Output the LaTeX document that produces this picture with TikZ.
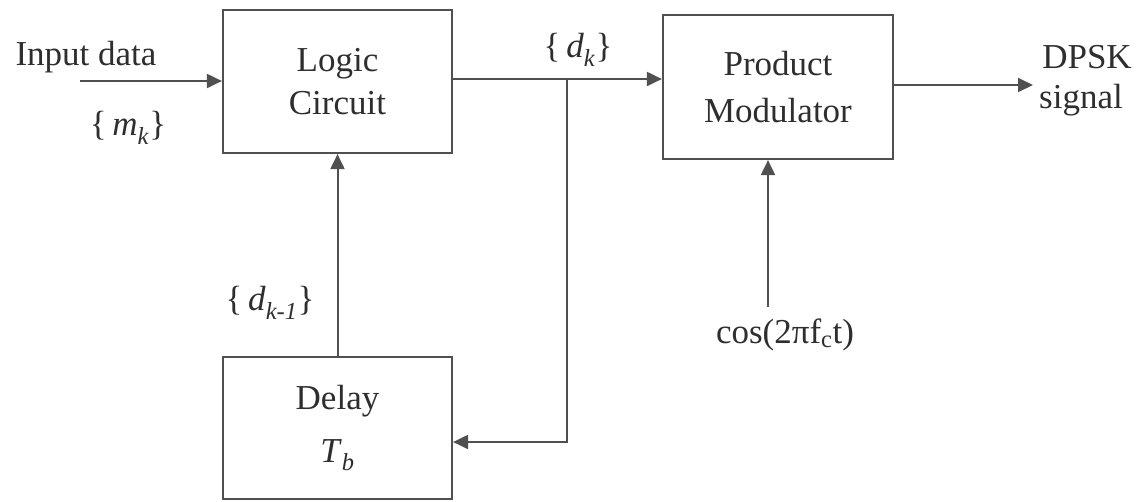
\documentclass[tikz,border=0pt]{standalone}
\usepackage{fontspec}
\setmainfont{Liberation Serif}
\usetikzlibrary{arrows.meta}
\definecolor{ln}{HTML}{505050}
\definecolor{tx}{HTML}{2E2E2E}
\begin{document}
\begin{tikzpicture}[x=1pt,y=-1pt,
  every node/.style={text=tx,font=\fontsize{35}{40}\selectfont},
  blk/.style={draw=ln,line width=2.2pt,rectangle,inner sep=0pt,align=center},
  conn/.style={draw=ln,line width=2pt},
  arr/.style={conn,-{Triangle[length=15pt,width=14pt]}},
  lbl/.style={inner sep=0pt}]
\useasboundingbox (0,0) rectangle (1145,501);
\node[blk,minimum width=229pt,minimum height=143pt,font=\fontsize{35}{43}\selectfont] (logic) at (337.5,81.5) {Logic\\Circuit};
\node[blk,minimum width=230pt,minimum height=144pt,font=\fontsize{35}{47}\selectfont] (prod) at (778,87) {Product\\Modulator};
\node[blk,minimum width=229pt,minimum height=142pt,font=\fontsize{35}{53}\selectfont] (delay) at (337.5,428) {Delay\\\textit{T}\textsubscript{\textit{b}}};
\node[lbl] (inp) at (86,57) {Input data};
\node[lbl] (mk) at (128,128) {\{\,\textit{m}\textsubscript{\textit{k}}\}};
\node[lbl] (dk) at (578,50) {\{\,\textit{d}\textsubscript{\textit{k}}\}};
\node[lbl] (dk1) at (270,303) {\{\,\textit{d}\textsubscript{\textit{k-1}}\}};
\node[lbl] (dpsk) at (1087,57) {DPSK};
\node[lbl] (sig) at (1081,100) {signal};
\node[lbl] (cos) at (785,335) {cos(2πf\textsubscript{c}t)};
\coordinate (in) at (80,81);
\coordinate (br) at (567,79);
\coordinate (fb) at (567,442);
\coordinate (cs) at (768,307);
\coordinate (out) at (1033,85);
\draw[arr] (in) -- (logic.west |- in);
\draw[conn] (logic.east |- br) -- (br);
\draw[arr] (br) -- (prod.west |- br);
\draw[arr] (br) -- (fb) -- (delay.east |- fb);
\draw[arr] (delay.north) -- (logic.south);
\draw[arr] (cs) -- (prod.south -| cs);
\draw[arr] (prod.east |- out) -- (out);
\end{tikzpicture}
\end{document}
